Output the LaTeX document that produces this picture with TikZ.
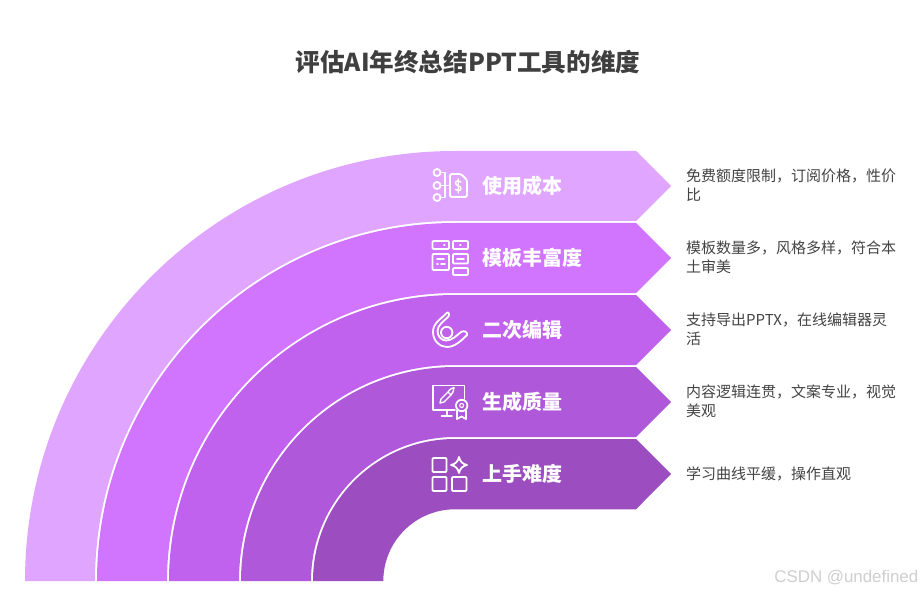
\documentclass[tikz,border=0pt]{standalone}
\usepackage{fontspec}
\setmainfont{Noto Sans CJK SC}
\newfontfamily\wmfont{Liberation Sans}
\definecolor{bandA}{HTML}{E0A6FF}
\definecolor{bandB}{HTML}{D175FF}
\definecolor{bandC}{HTML}{C062ED}
\definecolor{bandD}{HTML}{B058DA}
\definecolor{bandE}{HTML}{9C4EC0}
\definecolor{inkdark}{HTML}{3F3F3F}
\definecolor{inkdesc}{HTML}{444444}
\definecolor{wmgray}{HTML}{CFCFCF}
\newcommand{\bandshape}[6]{% colour, outer r, inner r, top y, bottom y, tip y
  \fill[#1] ({455-#2},581) arc[start angle=180,end angle=270,radius=#2]
    -- (636,#4) -- (671,#6) -- (636,#5) -- (455,#5)
    arc[start angle=270,end angle=180,radius=#3] -- cycle;}
\tikzset{
  titletext/.style={font=\fontsize{24.6bp}{30bp}\selectfont\bfseries,text=inkdark,inner sep=0pt},
  labeltext/.style={font=\fontsize{20bp}{24bp}\selectfont\bfseries,text=white,anchor=west,inner sep=0pt},
  desctext/.style={font=\fontsize{15bp}{19bp}\selectfont,text=inkdesc,anchor=west,align=left,inner sep=0pt},
  wmtext/.style={font=\wmfont\fontsize{16.9bp}{20bp}\selectfont,text=wmgray,anchor=east,inner sep=0pt},
  ic/.style={draw=white,line width=1.8bp,line join=round,line cap=round},
}
\begin{document}
\begin{tikzpicture}[x=1bp,y=1bp,yscale=-1]
\useasboundingbox (0,0) rectangle (922,594);
\fill[white] (0,0) rectangle (922,594);
\bandshape{bandA}{430}{360}{151}{221}{186}
\bandshape{bandB}{358}{288}{223}{293}{258}
\bandshape{bandC}{286}{216}{295}{365}{330}
\bandshape{bandD}{214}{144}{367}{437}{402}
\bandshape{bandE}{142}{71.7}{439}{509.3}{474}

\node[titletext] (title) at (468,62) {评估AI年终总结PPT工具的维度};

\node[labeltext] (l1) at (482,185.5) {使用成本};
\node[labeltext] (l2) at (482,257.5) {模板丰富度};
\node[labeltext] (l3) at (482,329.5) {二次编辑};
\node[labeltext] (l4) at (482,401.5) {生成质量};
\node[labeltext] (l5) at (482,473.5) {上手难度};

\node[desctext] (d1) at (686,185.5) {免费额度限制，订阅价格，性价\\比};
\node[desctext] (d2) at (686,257.5) {模板数量多，风格多样，符合本\\土审美};
\node[desctext] (d3) at (686,329.5) {支持导出PPTX，在线编辑器灵\\活};
\node[desctext] (d4) at (686,401.5) {内容逻辑连贯，文案专业，视觉\\美观};
\node[desctext] (d5) at (686,473.5) {学习曲线平缓，操作直观};

\node[wmtext] (wm) at (918.5,578) {CSDN @undefined};

% icon 1
\draw[ic] (437,172.5) circle (3.5) (437,185.5) circle (3.5) (437,197.5) circle (3.5);
\draw[ic] (440.5,172.5) -- (445,172.5) -- (445,197.5) -- (440.5,197.5) (440.5,185.5) -- (450,185.5);
\draw[ic,rounded corners=1.5bp] (450,174) -- (461,174) -- (467,180) -- (467,197) -- (450,197) -- cycle;
\draw[ic,line width=1.4bp] (461,182) .. controls (459.5,180) and (455.5,180.5) .. (455.5,183) .. controls (455.5,186) and (461,185.5) .. (461,188.5) .. controls (461,191) and (457,191.5) .. (455.5,189.5) (458.2,178.8) -- (458.2,193);

% icon 2
\begin{scope}[ic,rounded corners=1bp]
\draw (432.5,241) rectangle (449,249);
\draw (453,241) rectangle (468,249);
\draw (432.5,254) rectangle (449,270);
\draw (453,254) rectangle (468,263.5);
\draw (453,268) rectangle (468,275);
\end{scope}
\draw[ic] (444,245) -- (444.6,245) (460,245) -- (460.6,245) (437,259) -- (444,259) (437,264) -- (438,264) (441,264) -- (445,264) (457,258.7) -- (464,258.7);

% icon 3
\draw[ic] (446.7,313) .. controls (441,319) and (433,323) .. (433,332) .. controls (433,341) and (440,347) .. (447,347) .. controls (455,347) and (462,340) .. (467,335) .. controls (468,332) and (464,330) .. (461,332) .. controls (456,336) and (452,340.5) .. (446,340.5) .. controls (441,340.5) and (437.5,336) .. (437.5,331) .. controls (437.5,325) and (444,321) .. (448.5,316.5) .. controls (450,314) and (448,311) .. (446.7,313) -- cycle;
\draw[ic] (446.7,332.5) circle (5.7);

% icon 4
\draw[ic] (464.5,399) -- (464.5,385.5) -- (433,385.5) -- (433,410) -- (455,410);
\draw[ic] (446.7,410) -- (446.7,416) (441.5,416) -- (452,416);
\draw[ic,line width=1.4bp] (440,403) -- (441,399) -- (448,392) -- (451,395) -- (444,402) -- cycle (448,392) .. controls (450,389) and (452,388) .. (454,387.5) .. controls (454,390) and (453,393) .. (451,395);
\draw[ic] (461.7,405.5) circle (5.7);
\draw[ic,line width=1.1bp] (461.7,405.5) circle (2);
\draw[ic] (457,410.5) -- (457,419) -- (461.5,416.5) -- (466,419) -- (466,410.5);

% icon 5
\draw[ic,rounded corners=1bp] (432.5,458) rectangle (446.5,472);
\draw[ic,rounded corners=1bp] (432.5,477) rectangle (446.5,491);
\draw[ic,rounded corners=1bp] (452,477) rectangle (466.5,491);
\draw[ic] (459,457) .. controls (460,461.5) and (462.5,464) .. (467,465) .. controls (462.5,466) and (460,468.5) .. (459,473) .. controls (458,468.5) and (455.5,466) .. (451,465) .. controls (455.5,464) and (458,461.5) .. (459,457) -- cycle;
\end{tikzpicture}
\end{document}
